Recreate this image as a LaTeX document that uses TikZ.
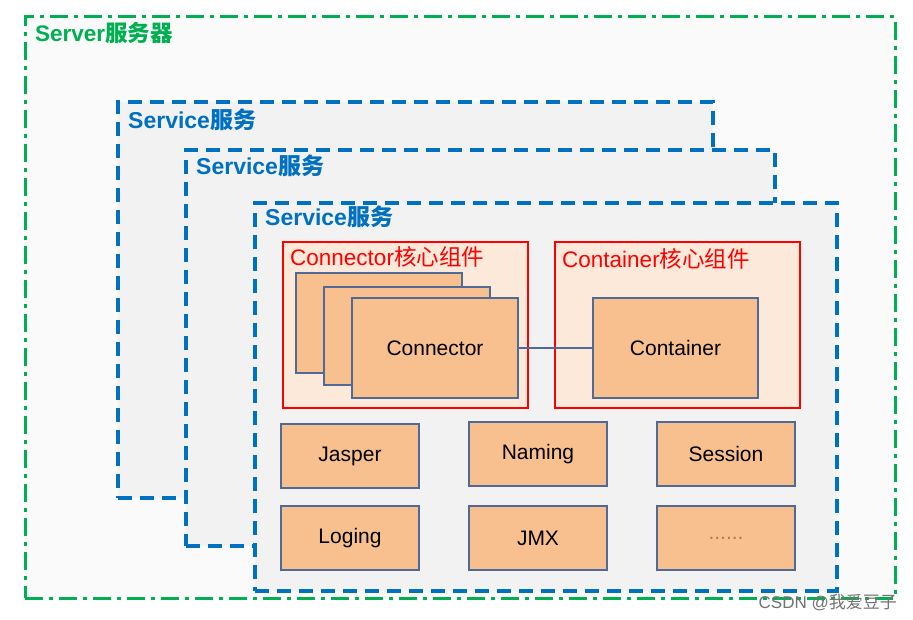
\documentclass[tikz,border=0pt]{standalone}
\usepackage{fontspec}
\setmainfont{Liberation Sans}
\newfontfamily\cjk{Noto Sans CJK SC}
\usetikzlibrary{positioning}

\definecolor{srvgreen}{HTML}{00B050}
\definecolor{svcblue}{HTML}{0070C0}
\definecolor{svcfill}{HTML}{F2F2F2}
\definecolor{corered}{HTML}{FF0000}
\definecolor{corefill}{HTML}{FDE9D9}
\definecolor{compfill}{HTML}{F9C08F}
\definecolor{compline}{HTML}{4F6A96}
\definecolor{dotbrown}{HTML}{C07840}

\begin{document}
\begin{tikzpicture}[x=1pt,y=-1pt]
\tikzset{
  serverbox/.style={draw=srvgreen,fill=white!98!black,line width=3pt,
    dash pattern=on 18pt off 6pt on 4pt off 6pt,inner sep=0pt,outer sep=0pt},
  servicebox/.style={draw=svcblue,fill=svcfill,line width=3.4pt,
    dash pattern=on 14pt off 8pt,inner sep=0pt,outer sep=0pt},
  corebox/.style={draw=corered,fill=corefill,line width=1.6pt,inner sep=0pt,outer sep=0pt},
  compbox/.style={draw=compline,fill=compfill,line width=1.8pt,inner sep=0pt,outer sep=0pt,
    font=\fontsize{21}{24}\selectfont},
  smallbox/.style={compbox,minimum width=138pt,minimum height=64pt},
  srvlabel/.style={anchor=west,inner sep=0pt,text=srvgreen,font=\bfseries\fontsize{22.5}{26}\selectfont},
  svclabel/.style={anchor=west,inner sep=0pt,text=svcblue,font=\bfseries\fontsize{23}{26}\selectfont},
  corelabel/.style={anchor=west,inner sep=0pt,text=corered,font=\fontsize{22.5}{26}\selectfont},
  link/.style={draw=compline,line width=1.4pt}
}
\useasboundingbox[fill=white] (0,0) rectangle (913,620);
% server and the three services
\node[serverbox,minimum width=870pt,minimum height=581pt] (server) at (460,307.5) {};
\node[srvlabel] (l_server) at (35,33) {Server{\cjk 服务器}};
\node[servicebox,minimum width=595pt,minimum height=396pt] (svc1) at (415.5,300) {};
\node[svclabel] (l_svc1) at (128,120) {Service{\cjk 服务}};
\node[servicebox,minimum width=589pt,minimum height=396pt] (svc2) at (480.5,348) {};
\node[svclabel] (l_svc2) at (196,166) {Service{\cjk 服务}};
\node[servicebox,minimum width=582pt,minimum height=388pt] (svc3) at (546,397) {};
\node[svclabel] (l_svc3) at (265,217) {Service{\cjk 服务}};
% core components
\node[corebox,minimum width=245pt,minimum height=166pt] (conncore) at (405.5,325) {};
\node[corelabel] (l_conncore) at (290,257) {Connector{\cjk 核心组件}};
\node[corebox,minimum width=245pt,minimum height=166pt] (contcore) at (677.5,325) {};
\node[corelabel] (l_contcore) at (562,259) {Container{\cjk 核心组件}};
\node[compbox,minimum width=166pt,minimum height=100pt] (conn_a) at (379,323) {};
\node[compbox,minimum width=166pt,minimum height=98pt] (conn_b) at (407,336) {};
\node[compbox,minimum width=166pt,minimum height=100pt] (conn_c) at (435,348) {Connector};
\node[compbox,minimum width=165pt,minimum height=100pt] (cont) at (675.5,348) {Container};
\draw[link] (conn_c) -- (cont);
% other components
\node[smallbox] (jasper) at (350,456) {Jasper};
\node[smallbox] (naming) at (538,454) {Naming};
\node[smallbox] (session) at (726,454) {Session};
\node[smallbox] (loging) at (350,538) {Loging};
\node[smallbox] (jmx) at (538,538) {JMX};
\node[smallbox,text=dotbrown] (more) at (726,538) {......};
% watermark
\node[anchor=east,inner sep=0pt,text=black!55,font=\fontsize{17}{19}\selectfont] (mark) at (897,603) {CSDN @{\cjk 我爱豆子}};
\end{tikzpicture}
\end{document}
